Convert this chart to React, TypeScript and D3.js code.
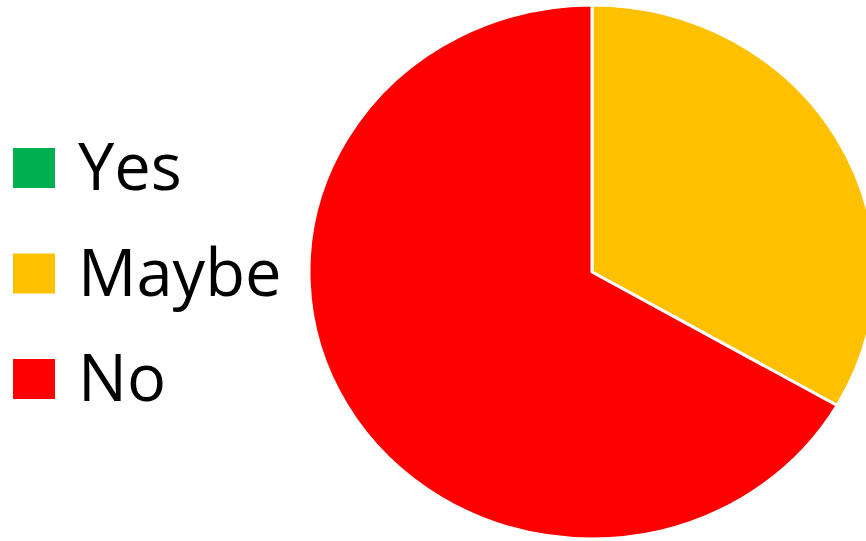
import React from "react";
import * as d3 from "d3";

const categories = ["Yes", "Maybe", "No"];
const values = [0, 1, 2];
const colors = ["#00B050", "#FFC000", "#FF0000"];

const W = 866;
const H = 541;

export default function App() {
  const cx = 592;
  const cy = 272;
  const ry = 267;
  const rx = 283;
  const pie = d3.pie<number>().sort(null).value((d) => d)(values);
  const arc = d3.arc<d3.PieArcDatum<number>>().innerRadius(0).outerRadius(ry);
  const legendY = d3.scalePoint<string>().domain(categories).range([168, 379]);

  return (
    <svg
      width={W}
      height={H}
      style={{ position: "absolute", left: 0, top: 0, background: "#fff" }}
    >
      <g transform={`translate(${cx},${cy}) scale(${rx / ry},1)`}>
        {pie.map((p, i) =>
          p.value > 0 ? (
            <path
              key={categories[i]}
              d={arc(p) || ""}
              fill={colors[i]}
              stroke="#fff"
              strokeWidth={3}
              vectorEffect="non-scaling-stroke"
              strokeLinejoin="round"
            />
          ) : null
        )}
      </g>
      {categories.map((c, i) => {
        const y = legendY(c)!;
        return (
          <g key={c}>
            <rect x={13} y={y - 20} width={42} height={40} fill={colors[i]} />
            <text
              x={78}
              y={y + 22}
              fontFamily="'Open Sans', sans-serif"
              fontSize={65}
              fill="#000"
            >
              {c}
            </text>
          </g>
        );
      })}
    </svg>
  );
}
